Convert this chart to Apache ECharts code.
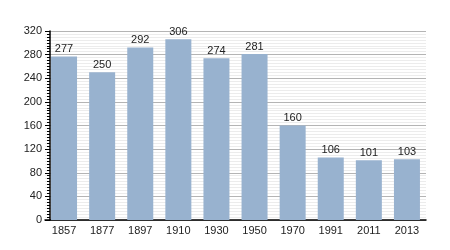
<!DOCTYPE html>
<html><head><meta charset="utf-8">
<script src="https://cdn.jsdelivr.net/npm/echarts@6/dist/echarts.min.js"></script>
<style>html,body{margin:0;padding:0;background:#fff}#c{width:450px;height:250px}</style>
</head><body><div id="c"></div>
<script>
const categories = ['1857','1877','1897','1910','1930','1950','1970','1991','2011','2013'];
const population = [277, 250, 292, 306, 274, 281, 160, 106, 101, 103];
const yTicks = [0, 40, 80, 120, 160, 200, 240, 280, 320];

const chart = echarts.init(document.getElementById('c'));
chart.setOption({
  animation: false,
  grid: {left: 45, right: 24, top: 31, bottom: 30},
  xAxis: {
    type: 'category', data: categories,
    axisLine: {lineStyle: {color: '#000', width: 1.5}},
    axisTick: {show: false},
    axisLabel: {color: '#222', fontSize: 11, fontFamily: 'Liberation Sans, Arial', margin: 5}
  },
  yAxis: {
    type: 'value', min: yTicks[0], max: yTicks[yTicks.length-1], interval: 40,
    offset: -5,
    axisLine: {show: true, lineStyle: {color: '#000', width: 1.5}},
    axisTick: {show: true, length: 5, lineStyle: {color: '#000'}},
    minorTick: {show: true, splitNumber: 8, length: 3, lineStyle: {color: '#000'}},
    axisLabel: {color: '#222', fontSize: 11, fontFamily: 'Liberation Sans, Arial', margin: 8},
    splitLine: {show: true, lineStyle: {color: '#b4b4b4', width: 1}},
    minorSplitLine: {show: true, lineStyle: {color: '#ececec', width: 1}}
  },
  series: [{
    type: 'bar', data: population, barWidth: 26,
    itemStyle: {color: '#98b2cf'},
    label: {show: true, position: 'top', distance: 2, color: '#222', fontSize: 11, fontFamily: 'Liberation Sans, Arial'}
  }]
});
</script></body></html>
